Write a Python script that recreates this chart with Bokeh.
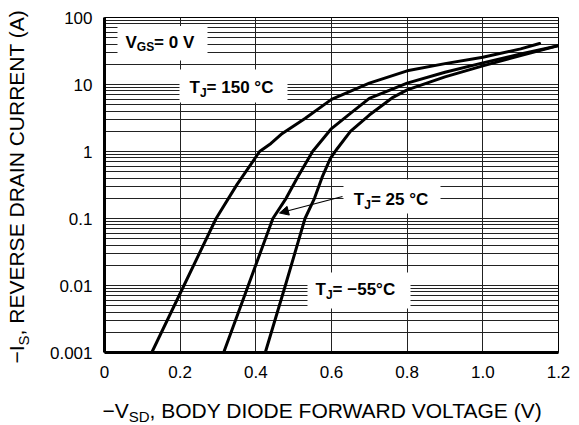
import math
from bokeh.plotting import figure
from bokeh.layouts import row, column
from bokeh.models import (FixedTicker, Label, BoxAnnotation, Arrow, NormalHead, Range1d)
from bokeh.embed import file_html
from bokeh.resources import INLINE

# ---- data ----
x_ticks = [0, 0.2, 0.4, 0.6, 0.8, 1.0, 1.2]
x_tick_labels = ["0", "0.2", "0.4", "0.6", "0.8", "1.0", "1.2"]
y_ticks = [0.001, 0.01, 0.1, 1, 10, 100]
y_tick_labels = ["0.001", "0.01", "0.1", "1", "10", "100"]

vsd_150 = [0.125, 0.21, 0.295, 0.35, 0.41, 0.44, 0.47, 0.53, 0.60, 0.70, 0.80, 0.90, 1.00, 1.10, 1.15]
is_150 = [0.001, 0.01, 0.1, 0.32, 1.0, 1.32, 1.86, 3.1, 6.0, 10.5, 16, 20.5, 25.5, 34, 41]

vsd_25 = [0.315, 0.38, 0.445, 0.48, 0.51, 0.55, 0.60, 0.65, 0.70, 0.80, 0.90, 1.00, 1.10, 1.20]
is_25 = [0.001, 0.01, 0.1, 0.2, 0.41, 1.0, 2.2, 3.7, 6.2, 10.5, 15.2, 21, 28.5, 38]

vsd_m55 = [0.425, 0.478, 0.53, 0.555, 0.575, 0.597, 0.615, 0.65, 0.70, 0.76, 0.80, 0.90, 1.00, 1.10, 1.20]
is_m55 = [0.001, 0.01, 0.1, 0.2, 0.41, 0.79, 1.1, 2.0, 3.5, 6.3, 8.3, 13, 19, 27, 38]

# minor grid values for the log axis
y_grid = []
for d in [0.001, 0.01, 0.1, 1, 10]:
    for m in range(1, 10):
        y_grid.append(d * m)
y_grid.append(100)

FONT = "Liberation Sans"

# overall page geometry (window pixels)
TOTAL_W, TOTAL_H = 579, 425
LEFT_W = 36          # strip holding the rotated y title
BOTTOM_H = 45        # strip holding the x title
MAIN_W = TOTAL_W - LEFT_W
MAIN_H = TOTAL_H - BOTTOM_H
FRAME_L, FRAME_R, FRAME_T, FRAME_B = 104, 558, 17, 352   # frame in window px

p = figure(width=MAIN_W, height=MAIN_H, x_range=(0, 1.2), y_range=(0.001, 100),
           y_axis_type="log", output_backend="svg", toolbar_location=None,
           min_border_left=FRAME_L - LEFT_W, min_border_right=TOTAL_W - FRAME_R,
           min_border_top=FRAME_T, min_border_bottom=MAIN_H - FRAME_B,
           frame_align=False)
p.background_fill_color = "white"
p.border_fill_color = "white"
p.outline_line_color = "black"
p.outline_line_width = 1

p.xaxis.ticker = FixedTicker(ticks=x_ticks)
p.xaxis.major_label_overrides = {t: l for t, l in zip(x_ticks, x_tick_labels)}
p.yaxis.ticker = FixedTicker(ticks=y_ticks)
p.yaxis.major_label_overrides = {t: l for t, l in zip(y_ticks, y_tick_labels)}

for ax in (p.xaxis, p.yaxis):
    ax.axis_line_width = 3
    ax.axis_line_color = "black"
    ax.major_tick_line_color = None
    ax.minor_tick_line_color = None
    ax.major_label_text_font = FONT
    ax.major_label_text_font_size = "17px"
    ax.major_label_text_color = "black"
    ax.axis_label = None
p.xaxis.major_label_standoff = 7
p.yaxis.major_label_standoff = 6

p.xgrid.ticker = FixedTicker(ticks=x_ticks)
p.ygrid.ticker = FixedTicker(ticks=y_grid)
for g in (p.xgrid, p.ygrid):
    g.grid_line_color = "#222222"
    g.grid_line_width = 1
    g.grid_line_alpha = 1

for xs, ys in ((vsd_150, is_150), (vsd_25, is_25), (vsd_m55, is_m55)):
    p.line(xs, ys, line_width=3, line_color="black", line_join="round", line_cap="round")


# helpers: window pixel -> data coordinates of the main frame
def xd(px):
    return (px - FRAME_L) / (FRAME_R - FRAME_L) * 1.2


def yd(py):
    return 10 ** (2 - (py - FRAME_T) / (FRAME_B - FRAME_T) * 5)


def box(l, r, t, b):
    p.add_layout(BoxAnnotation(left=xd(l), right=xd(r), top=yd(t), bottom=yd(b),
                               fill_color="white", fill_alpha=1, line_color=None))


box(117, 207, 25.5, 60)
box(179, 287, 69, 102)
box(343, 440, 179, 213)
box(307, 410, 272, 308)

CAP_MID = 0.358   # cap-height centre above the baseline, in em


def lab(fig, text, x, y, size, bold=False, angle=0.0):
    fig.add_layout(Label(x=x, y=y, text=text, text_font=FONT,
                         text_font_size=f"{size}px",
                         text_font_style="bold" if bold else "normal",
                         text_color="black", text_align="left",
                         text_baseline="middle", angle=angle))


def mlab(text, px, base_py, size, bold=True):
    lab(p, text, xd(px), yd(base_py - CAP_MID * size), size, bold)


# V_GS = 0 V
mlab("V", 125, 48, 17)
mlab("GS", 136.3, 51, 12)
mlab(" = 0 V", 153.6, 48, 17)
# T_J = 150 °C
mlab("T", 189, 93, 17)
mlab("J", 199.4, 97, 12)
mlab(" = 150 °C", 206.1, 93, 17)
# T_J = 25 °C
mlab("T", 353.3, 205, 17)
mlab("J", 363.7, 209, 12)
mlab(" = 25 °C", 370.4, 205, 17)
# T_J = -55 °C
mlab("T", 315, 295, 17)
mlab("J", 325.4, 299, 12)
mlab(" = \u221255°C", 332.1, 295, 17)

p.add_layout(Arrow(x_start=xd(342), y_start=yd(196), x_end=xd(279), y_end=yd(212.5),
                   line_width=1.2, line_color="black",
                   end=NormalHead(size=9, fill_color="black", line_color="black")))


def strip(w, h, x0, x1, y0, y1):
    f = figure(width=w, height=h, x_range=Range1d(x0, x1), y_range=Range1d(y1, y0),
               output_backend="svg", toolbar_location=None,
               x_axis_location=None, y_axis_location=None,
               min_border=0, min_border_left=0, min_border_right=0,
               min_border_top=0, min_border_bottom=0, frame_align=False)
    f.outline_line_color = None
    f.background_fill_color = "white"
    f.border_fill_color = "white"
    f.grid.visible = False
    return f


# x title strip: window coordinates x LEFT_W..579, y 380..425
fx = strip(MAIN_W, BOTTOM_H, LEFT_W, TOTAL_W, MAIN_H, TOTAL_H)
lab(fx, "\u2212V", 102, 418 - CAP_MID * 21, 21)
lab(fx, "SD", 128.3, 421 - CAP_MID * 15, 15)
lab(fx, ", BODY DIODE FORWARD VOLTAGE (V)", 149.1, 418 - CAP_MID * 21, 21)

# y title strip: window coordinates x 0..LEFT_W, y 0..425 (rotated text, tops point left)
fy = strip(LEFT_W, TOTAL_H, 0, LEFT_W, 0, TOTAL_H)
lab(fy, "\u2212I", 24 - CAP_MID * 21, 363, 21, angle=math.pi / 2)
lab(fy, "S", 28 - CAP_MID * 15, 344.9, 15, angle=math.pi / 2)
lab(fy, ", REVERSE DRAIN CURRENT (A)", 24 - CAP_MID * 21, 334.9, 21, angle=math.pi / 2)

layout = row(fy, column(p, fx))

open("out.html", "w").write(file_html(layout, INLINE))
